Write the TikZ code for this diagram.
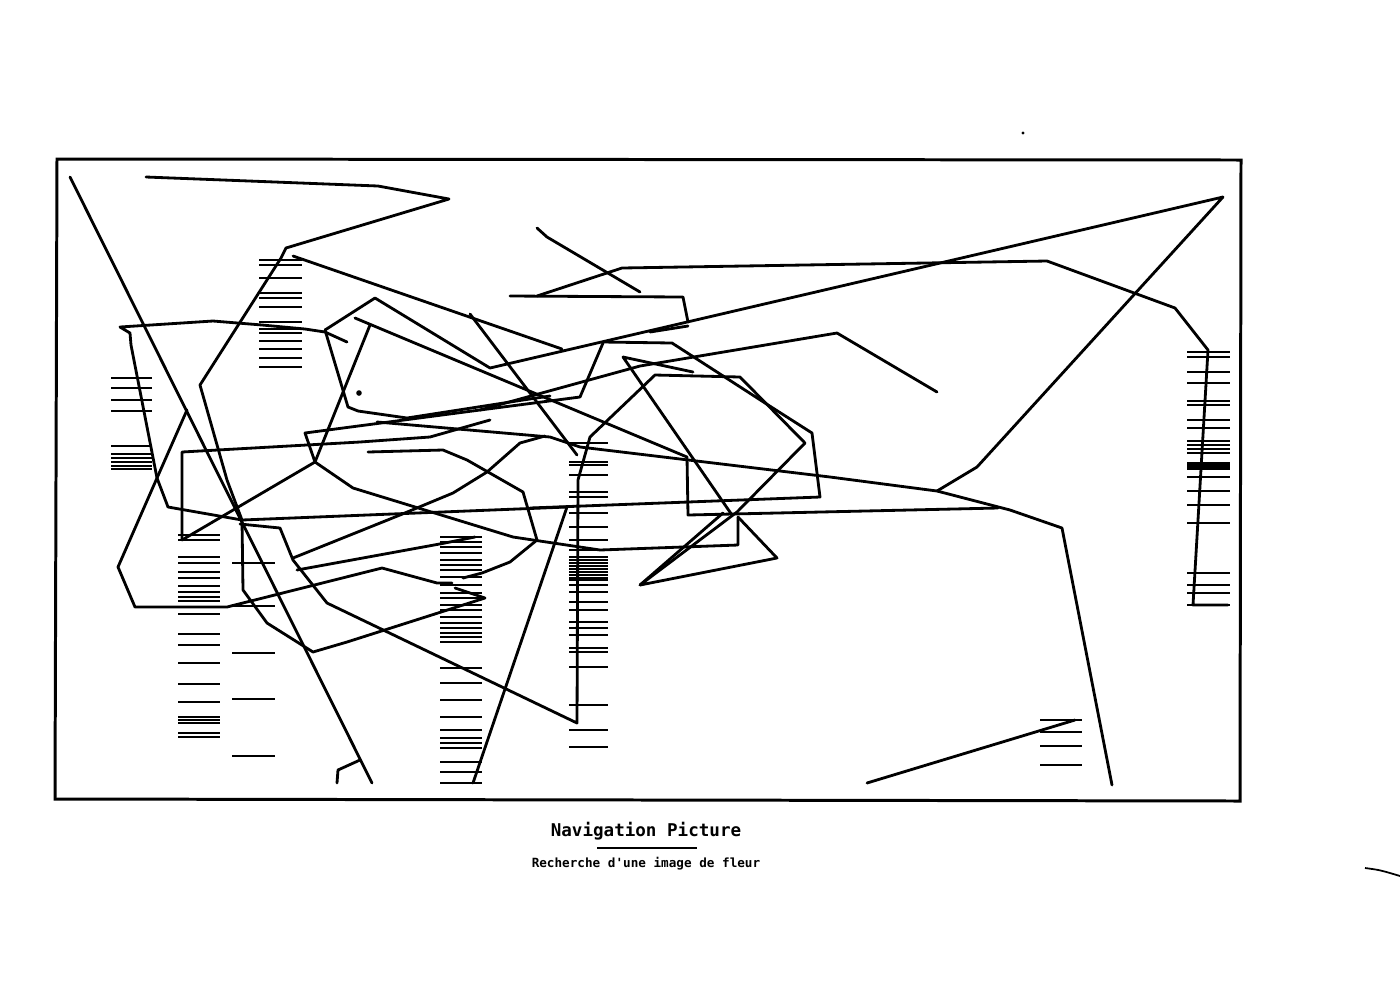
\documentclass[tikz,border=0pt]{standalone}
\usepackage{fontspec}
\newfontfamily\plotfont{DejaVu Sans Mono}
\begin{document}
\begin{tikzpicture}[x=0.02cm,y=-0.02cm,
  ln/.style={line width=1.6pt,line join=round,line cap=round},
  hatch/.style={line width=1.35pt},
  frame/.style={line width=1.7pt,line join=miter}]
\useasboundingbox (0,0) rectangle (1400,992);
\fill[white] (0,0) rectangle (1400,992);
% plot frame
\draw[frame] (57,159) -- (1241,160) -- (1240,801) -- (55,799) -- cycle;

% navigation path
\draw[ln] (70,177) -- (372,783);
\draw[ln] (146,177) -- (378,186) -- (449,199) -- (286,248) -- (281,258) -- (200,385) -- (227,480) -- (242,520) -- (243,590) -- (267,623) -- (313,652) -- (347,642) -- (485,598) -- (455,588);
\draw[ln] (347,342) -- (325,332) -- (305,329) -- (262,325) -- (213,321) -- (120,327) -- (130,333) -- (131,345) -- (157,478) -- (168,507) -- (242,520) -- (567,507);
\draw[ln] (187,410) -- (157,478) -- (118,567) -- (135,607) -- (227,607) -- (382,568) -- (437,583) -- (452,583);
\draw[ln] (325,330) -- (375,298) -- (490,368) -- (1223,197) -- (977,467) -- (937,491);
\draw[ln] (325,330) -- (348,407) -- (358,411) -- (407,418) -- (523,400) -- (550,396);
\draw[ln] (355,318) -- (687,457) -- (688,515) -- (998,508);
\draw[ln] (293,256) -- (562,349);
\draw[ln] (470,314) -- (577,455);
\draw[ln] (240,524) -- (280,528) -- (293,560) -- (327,603) -- (577,723) -- (578,480) -- (590,437) -- (655,375) -- (740,377) -- (805,443) -- (737,512) -- (640,585) -- (777,558) -- (738,517);
\draw[ln] (693,372) -- (623,357) -- (732,515);
\draw[ln] (537,228) -- (547,237) -- (640,292);
\draw[ln] (510,296) -- (683,297) -- (688,322);
\draw[ln] (537,296) -- (622,268) -- (1047,261) -- (1175,308) -- (1208,350) -- (1193,605) -- (1228,605);
\draw[ln] (650,332) -- (688,326);
\draw[ln] (603,342) -- (672,343) -- (765,403) -- (812,433) -- (820,497) -- (530,508);
\draw[ln] (377,422) -- (550,437) -- (580,447) -- (830,477) -- (937,491) -- (1010,510) -- (1062,528) -- (1112,785);
\draw[ln] (480,410) -- (640,366) -- (837,333) -- (937,392);
\draw[ln] (867,783) -- (1075,720);
\draw[ln] (337,783) -- (338,770) -- (360,760);
\draw[ln] (473,783) -- (567,507);
\draw[ln] (368,452) -- (443,450) -- (467,460) -- (523,492) -- (537,540) -- (510,562) -- (482,573) -- (463,578);
\draw[ln] (293,558) -- (400,515) -- (453,493) -- (487,472) -- (520,443) -- (545,436);
\draw[ln] (297,570) -- (445,543) -- (475,537);
\draw[ln] (182,540) -- (182,452) -- (360,442) -- (430,437) -- (490,420);
\draw[ln] (182,540) -- (315,462) -- (370,325);
\draw[ln] (315,462) -- (305,433) -- (480,410) -- (580,397) -- (603,343);
\draw[ln] (315,462) -- (353,488) -- (513,537) -- (600,550) -- (738,545) -- (738,517);
\draw[ln] (640,585) -- (723,513);
\fill (359,393) circle (2.8);

% hatch columns
\foreach \y in {378,388,400,411,446,454,458,462,466,469}
  \draw[hatch] (111,\y) -- (152,\y);
\foreach \y in {260,265,278,293,298,307,322,329,333,341,349,358,367}
  \draw[hatch] (259,\y) -- (302,\y);
\foreach \y in {535,540,557,563,572,578,586,592,597,601,607,614,634,645,663,684,702,717,720,723,733,737}
  \draw[hatch] (178,\y) -- (220,\y);
\foreach \y in {563,606,653,699,756}
  \draw[hatch] (232,\y) -- (275,\y);
\foreach \y in {537,542,547,553,560,565,570,577,585,593,598,605,610,617,623,628,633,637,642,668,683,700,717,730,738,743,748,762,772,783}
  \draw[hatch] (440,\y) -- (482,\y);
\foreach \y in {443,462,465,475,492,497,513,527,540,550,557,560,563,566,569,572,575,578,580,585,592,602,610,622,628,635,648,652,667,705,730,747}
  \draw[hatch] (569,\y) -- (608,\y);
\foreach \y in {352,357,372,383,401,405,420,428,441,445,449,453,463,465,467,469,477,491,505,523,573,585,593,605}
  \draw[hatch] (1187,\y) -- (1230,\y);
\foreach \y in {720,732,746,765}
  \draw[hatch] (1040,\y) -- (1082,\y);

% stray marks
\fill (1023,133) circle (1.6);
\draw[line width=1pt] (1365,868) .. controls (1380,870) .. (1400,876);

% caption
\node[font=\plotfont\bfseries\fontsize{10}{12}\selectfont] (title) at (646,831) {Navigation Picture};
\draw[line width=1pt] (597,848) -- (697,848);
\node[font=\plotfont\bfseries\fontsize{7.2}{9}\selectfont] (subtitle) at (646,864) {Recherche d'une image de fleur};
\end{tikzpicture}
\end{document}
